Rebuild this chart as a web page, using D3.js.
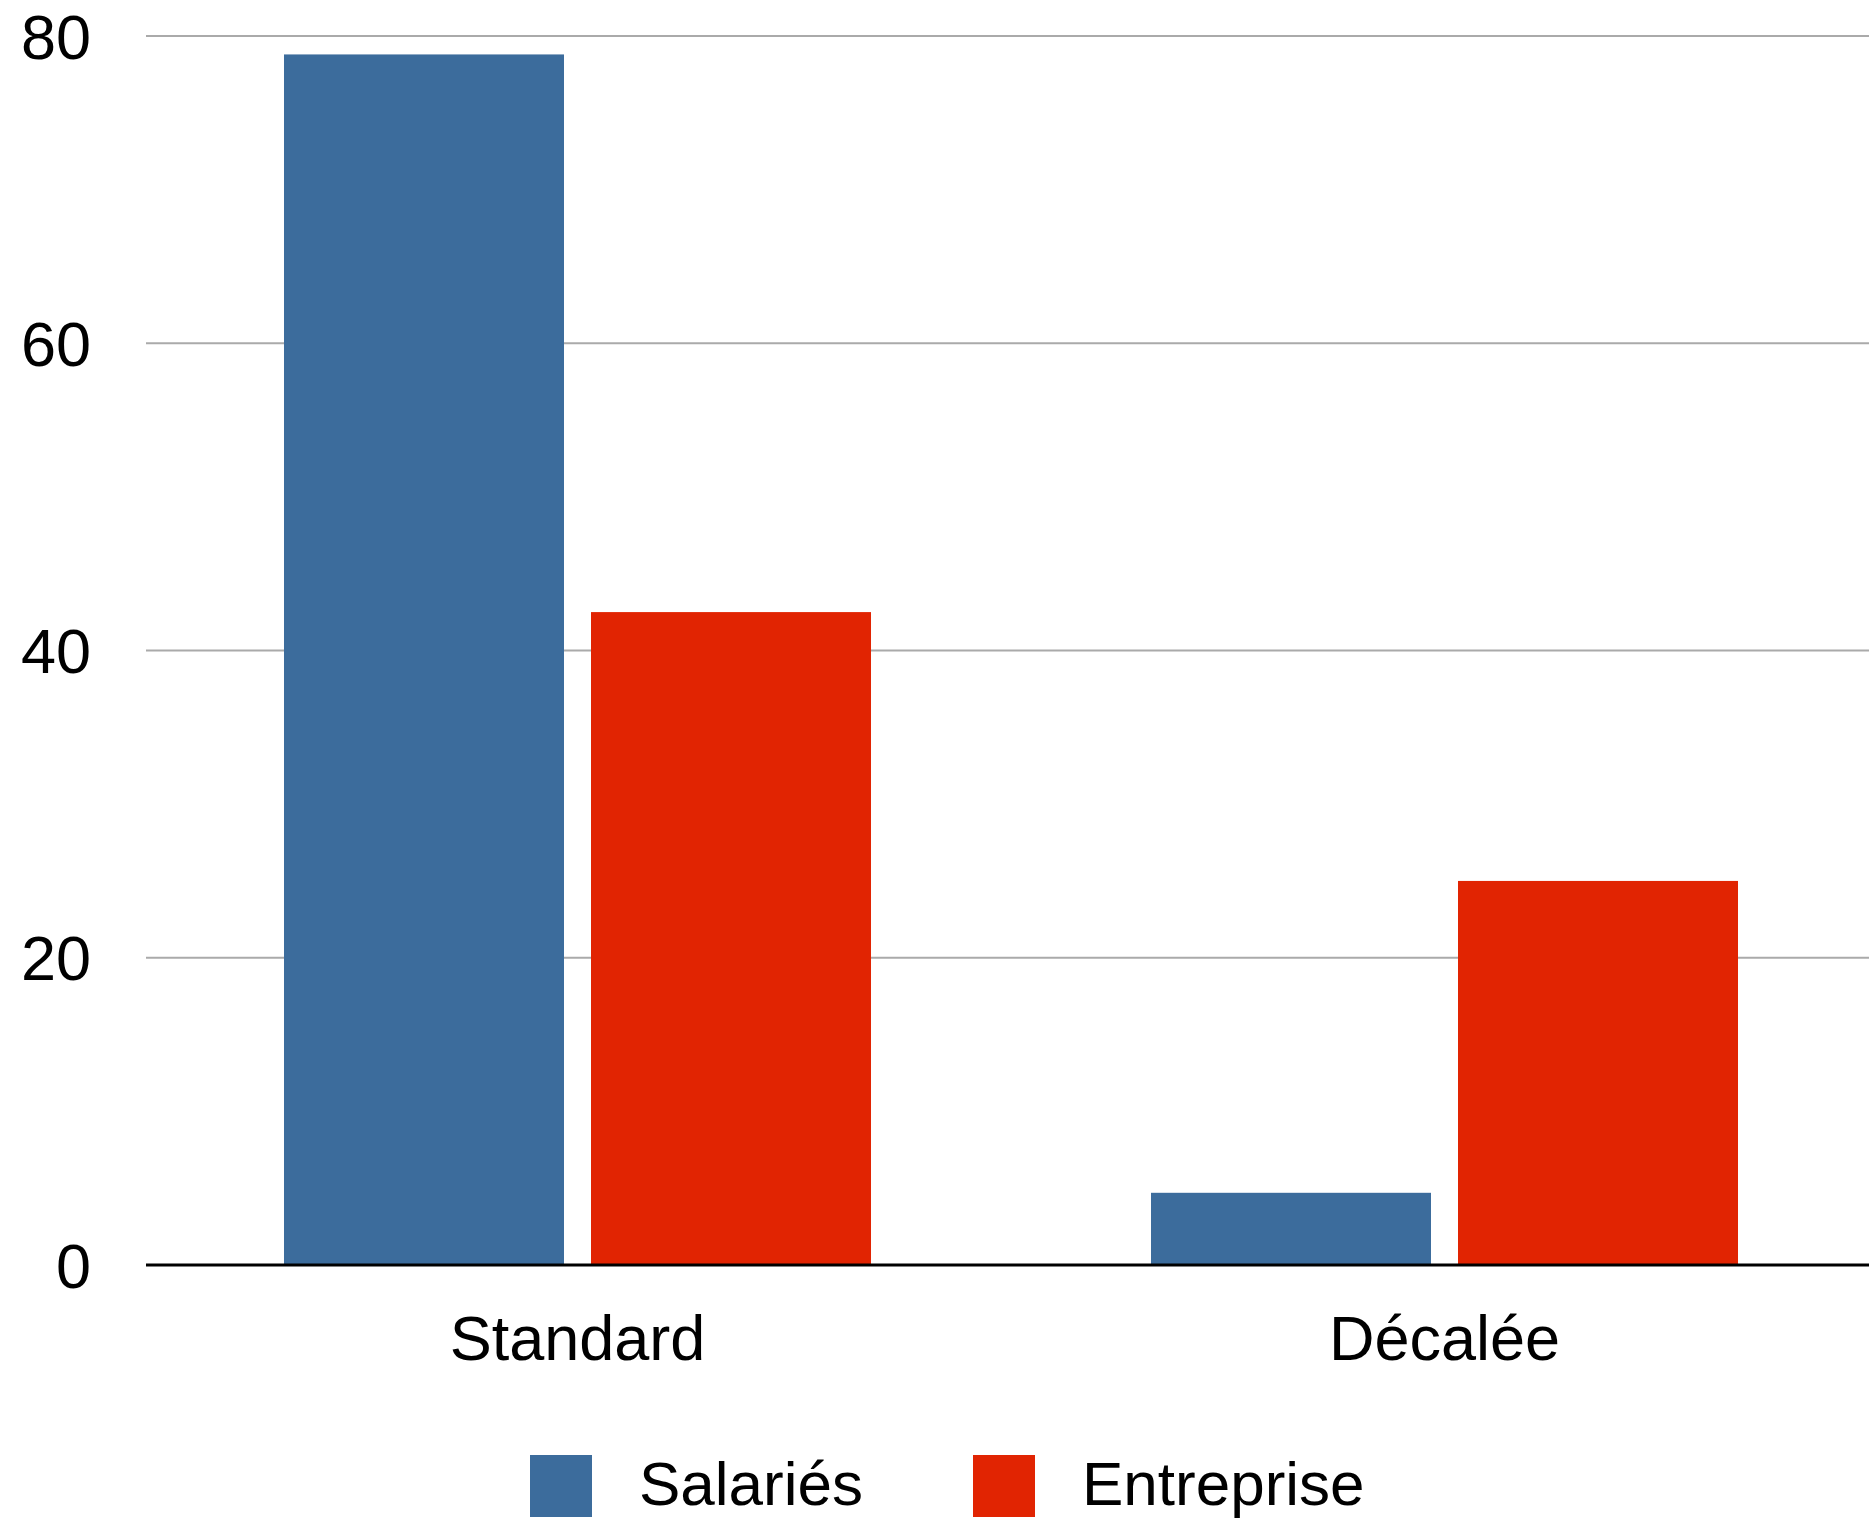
<!DOCTYPE html>
<html>
<head>
<meta charset="utf-8">
<script src="https://cdn.jsdelivr.net/npm/d3@7"></script>
<style>
  html, body { margin: 0; padding: 0; background: #ffffff; }
  svg { display: block; font-family: "Liberation Sans", Arial, Helvetica, sans-serif; }
</style>
</head>
<body>
<svg id="chart" width="1869" height="1519"></svg>
<script>
const categories = ["Standard", "Décalée"];
const seriesNames = ["Salariés", "Entreprise"];
const salaries = [78.8, 4.7];
const entreprise = [42.5, 25];
const yTicks = [0, 20, 40, 60, 80];
const colors = ["#3c6c9c", "#e12402"];

const seriesValues = [salaries, entreprise];
const W = 1869, H = 1519;
const svg = d3.select("#chart");

const y = d3.scaleLinear().domain([0, 80]).range([1265, 36]);
const x0 = d3.scaleBand().domain(categories).range([144, 1878]).padding(0);
const x1 = d3.scaleBand().domain(seriesNames).range([0, x0.bandwidth()])
  .paddingInner(0.088).paddingOuter(0.456);

// gridlines
svg.append("g").selectAll("line").data(yTicks.filter(d => d !== 0)).join("line")
  .attr("x1", 146).attr("x2", W)
  .attr("y1", d => y(d)).attr("y2", d => y(d))
  .attr("stroke", "#aaaaaa").attr("stroke-width", 2);

// y labels
svg.append("g").selectAll("text").data(yTicks).join("text")
  .attr("x", 91).attr("y", d => y(d)).attr("dy", "0.36em")
  .attr("text-anchor", "end").attr("font-size", 63).attr("fill", "#000")
  .text(d => d);

// bars
const rows = [];
categories.forEach((c, i) => seriesNames.forEach((s, j) => rows.push({c, s, v: seriesValues[j][i], j})));
svg.append("g").selectAll("rect").data(rows).join("rect")
  .attr("x", d => x0(d.c) + x1(d.s))
  .attr("width", x1.bandwidth())
  .attr("y", d => y(d.v))
  .attr("height", d => y(0) - y(d.v))
  .attr("fill", d => colors[d.j]);

// x axis line
svg.append("line").attr("x1", 146).attr("x2", W)
  .attr("y1", y(0)).attr("y2", y(0))
  .attr("stroke", "#000").attr("stroke-width", 3);

// x labels
svg.append("g").selectAll("text").data(categories).join("text")
  .attr("x", d => x0(d) + x0.bandwidth() / 2).attr("y", 1360)
  .attr("text-anchor", "middle").attr("font-size", 63).attr("fill", "#000")
  .text(d => d);

// legend
const legendX = [530, 973];
const lg = svg.append("g").selectAll("g").data(seriesNames).join("g")
  .attr("transform", (d, i) => `translate(${legendX[i]},1455)`);
lg.append("rect").attr("width", 62).attr("height", 62).attr("fill", (d, i) => colors[i]);
lg.append("text").attr("x", 109).attr("y", 50).attr("font-size", 62).attr("fill", "#000").text(d => d);
</script>
</body>
</html>
